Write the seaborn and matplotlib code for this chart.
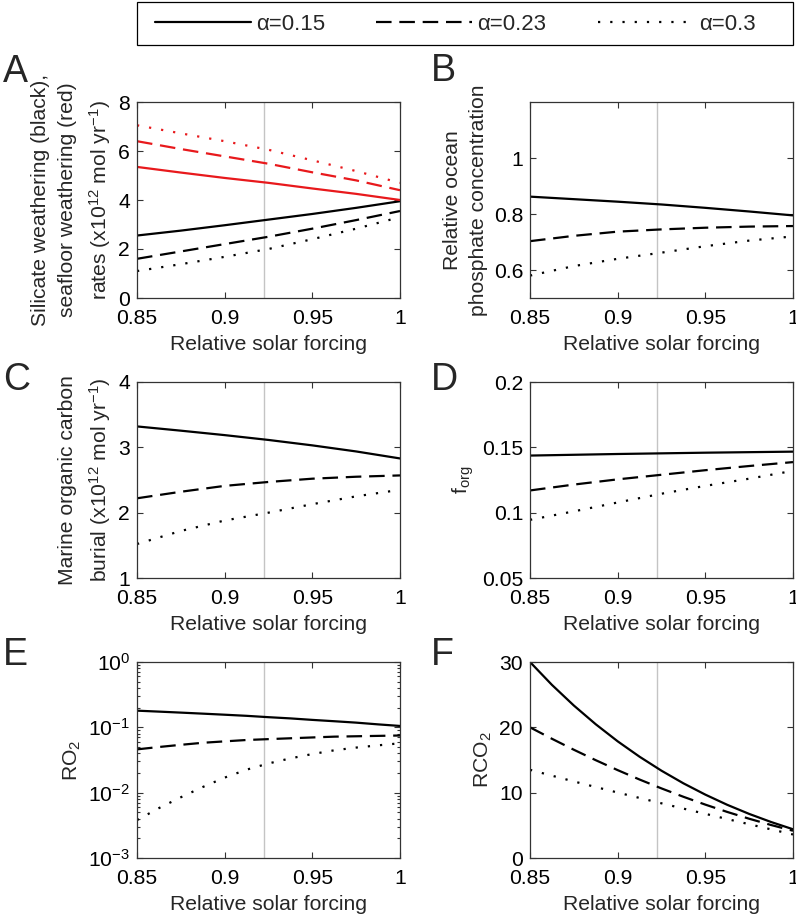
import matplotlib
matplotlib.use("Agg")
import matplotlib.pyplot as plt
from matplotlib.lines import Line2D
from matplotlib.patches import Rectangle
from matplotlib.ticker import FuncFormatter, LogLocator
import seaborn as sns

forcing = [0.85, 0.875, 0.9, 0.925, 0.95, 0.975, 1.0]
forcing_fine = [0.85, 0.8625, 0.875, 0.8875, 0.9, 0.9125, 0.925,
                0.9375, 0.95, 0.9625, 0.975, 0.9875, 1.0]
alpha_labels = ["α=0.15", "α=0.23", "α=0.3"]
present_day = 0.9225

# A: silicate weathering (black) and seafloor weathering (red)
silicate_015 = [2.55, 2.75, 2.97, 3.2, 3.43, 3.68, 3.95]
silicate_023 = [1.6, 1.9, 2.2, 2.5, 2.83, 3.18, 3.55]
silicate_03 = [1.1, 1.38, 1.68, 2.0, 2.4, 2.83, 3.3]
seafloor_015 = [5.35, 5.12, 4.9, 4.7, 4.47, 4.25, 4.0]
seafloor_023 = [6.4, 6.08, 5.78, 5.48, 5.13, 4.8, 4.4]
seafloor_03 = [7.05, 6.72, 6.4, 6.05, 5.62, 5.18, 4.7]

# B: relative ocean phosphate
phosphate_015 = [0.862, 0.853, 0.844, 0.834, 0.822, 0.809, 0.795]
phosphate_023 = [0.703, 0.722, 0.737, 0.745, 0.751, 0.755, 0.757]
phosphate_03 = [0.58, 0.614, 0.64, 0.662, 0.685, 0.705, 0.72]

# C: marine organic carbon burial
burial_015 = [3.32, 3.255, 3.187, 3.113, 3.03, 2.937, 2.83]
burial_023 = [2.22, 2.32, 2.41, 2.47, 2.52, 2.55, 2.57]
burial_03 = [1.52, 1.72, 1.88, 2.0, 2.13, 2.25, 2.35]

# D: f_org
forg_015 = [0.1437, 0.1443, 0.1449, 0.1454, 0.1459, 0.1463, 0.1467]
forg_023 = [0.117, 0.1215, 0.1255, 0.129, 0.1325, 0.1357, 0.1387]
forg_03 = [0.0945, 0.101, 0.1078, 0.1145, 0.1205, 0.126, 0.132]

# E: RO2 (fine grid)
ro2_015 = [0.18, 0.174, 0.168, 0.162, 0.156, 0.15, 0.143,
           0.137, 0.13, 0.124, 0.118, 0.111, 0.105]
ro2_023 = [0.046, 0.05, 0.054, 0.058, 0.061, 0.064, 0.066,
           0.068, 0.070, 0.072, 0.073, 0.074, 0.075]
ro2_03 = [0.0038, 0.0058, 0.0085, 0.0122, 0.017, 0.0225, 0.028,
          0.0335, 0.039, 0.0445, 0.049, 0.053, 0.057]

# F: RCO2 (fine grid)
rco2_015 = [30.0, 26.5, 23.34, 20.47, 17.86, 15.5, 13.36,
            11.43, 9.7, 8.14, 6.75, 5.51, 4.4]
rco2_023 = [20.0, 18.25, 16.57, 14.97, 13.45, 12.01, 10.65,
            9.37, 8.17, 7.05, 6.01, 5.05, 4.17]
rco2_03 = [13.5, 12.6, 11.72, 10.86, 10.02, 9.19, 8.37,
           7.56, 6.76, 5.96, 5.17, 4.38, 3.6]

styles = ["-", (0, (7, 3.5)), (0, (1, 4.5))]

sns.set_style("ticks")
plt.rcParams["font.family"] = ["Liberation Sans", "DejaVu Sans"]
plt.rcParams["mathtext.fontset"] = "custom"
plt.rcParams["mathtext.rm"] = "Liberation Sans"
plt.rcParams["mathtext.it"] = "Liberation Sans:italic"
plt.rcParams["axes.edgecolor"] = "#333333"
plt.rcParams["xtick.color"] = "#333333"
plt.rcParams["ytick.color"] = "#333333"
plt.rcParams["xtick.labelcolor"] = "black"
plt.rcParams["ytick.labelcolor"] = "black"

FS = 15.2
fig = plt.figure(figsize=(7.96, 9.16), dpi=100)

lefts = [137 / 796, 530 / 796]
bottoms = [1 - 298 / 916, 1 - 578 / 916, 1 - 858 / 916]
w, h = 263 / 796, 196 / 916


def fmt(v, pos):
    return "%g" % v


def setup(ax, ylim, yticks, ylabel, log=False):
    ax.axvline(present_day, color="#c4c4c4", lw=1, zorder=0)
    ax.set_xlim(0.85, 1.0)
    ax.set_xticks([0.85, 0.9, 0.95, 1.0])
    ax.xaxis.set_major_formatter(FuncFormatter(fmt))
    ax.set_ylim(*ylim)
    if log:
        ax.set_yscale("log")
        ax.yaxis.set_major_locator(LogLocator(base=10, numticks=10))
        ax.yaxis.set_minor_locator(LogLocator(base=10, subs=range(2, 10), numticks=20))
    else:
        ax.set_yticks(yticks)
        ax.yaxis.set_major_formatter(FuncFormatter(fmt))
    ax.tick_params(which="both", direction="in", top=True, right=True,
                   labelsize=FS, width=0.8)
    ax.tick_params(which="major", length=4)
    ax.tick_params(which="minor", length=2.5)
    ax.tick_params(axis="x", pad=8)
    ax.tick_params(axis="y", pad=5)
    for s in ax.spines.values():
        s.set_linewidth(0.9)
    ax.set_xlabel("Relative solar forcing", fontsize=FS, labelpad=5)
    ax.set_ylabel(ylabel, fontsize=FS, linespacing=1.5)


def draw(ax, series, x=forcing, color="black"):
    for vals, ls in zip(series, styles):
        sns.lineplot(x=x, y=vals, ax=ax, color=color, linestyle=ls, lw=1.6)


axA = fig.add_axes([lefts[0], bottoms[0], w, h])
draw(axA, [silicate_015, silicate_023, silicate_03])
draw(axA, [seafloor_015, seafloor_023, seafloor_03], color="#e8191c")
setup(axA, (0, 8), [0, 2, 4, 6, 8],
      "Silicate weathering (black),\nseafloor weathering (red)\nrates (x10$^{12}$ mol yr$^{-1}$)")

axB = fig.add_axes([lefts[1], bottoms[0], w, h])
draw(axB, [phosphate_015, phosphate_023, phosphate_03])
setup(axB, (0.5, 1.2), [0.6, 0.8, 1.0],
      "Relative ocean\nphosphate concentration")

axC = fig.add_axes([lefts[0], bottoms[1], w, h])
draw(axC, [burial_015, burial_023, burial_03])
setup(axC, (1, 4), [1, 2, 3, 4],
      "Marine organic carbon\nburial (x10$^{12}$ mol yr$^{-1}$)")

axD = fig.add_axes([lefts[1], bottoms[1], w, h])
draw(axD, [forg_015, forg_023, forg_03])
setup(axD, (0.05, 0.2), [0.05, 0.1, 0.15, 0.2], "f$_{\\mathrm{org}}$")

axE = fig.add_axes([lefts[0], bottoms[2], w, h])
draw(axE, [ro2_015, ro2_023, ro2_03], x=forcing_fine)
setup(axE, (1e-3, 1), None, "RO$_2$", log=True)

axF = fig.add_axes([lefts[1], bottoms[2], w, h])
draw(axF, [rco2_015, rco2_023, rco2_03], x=forcing_fine)
setup(axF, (0, 30), [0, 10, 20, 30], "RCO$_2$")

# panel letters
letters = [("A", 3, 72), ("B", 431, 71), ("C", 3, 380),
           ("D", 431, 380), ("E", 3, 655), ("F", 431, 655)]
for s, px, py in letters:
    fig.text(px / 796, 1 - py / 916, s, fontsize=27, ha="left", va="center")

# legend box drawn separately so the entries keep their own spacing
fig.add_artist(Rectangle((137 / 796, 1 - 45 / 916), 656 / 796, 43 / 916,
                         transform=fig.transFigure, fill=False,
                         edgecolor="black", lw=0.9))
handles = [Line2D([], [], color="black", lw=1.6, linestyle=ls) for ls in styles]
fig.legend(handles, alpha_labels, loc="center left", ncol=3,
           bbox_to_anchor=(155 / 796, 1 - 24 / 916),
           borderaxespad=0, borderpad=0, frameon=False, handlelength=4.3,
           fontsize=16, handletextpad=0.25, columnspacing=2.3)

fig.savefig("out.png", dpi=100)
